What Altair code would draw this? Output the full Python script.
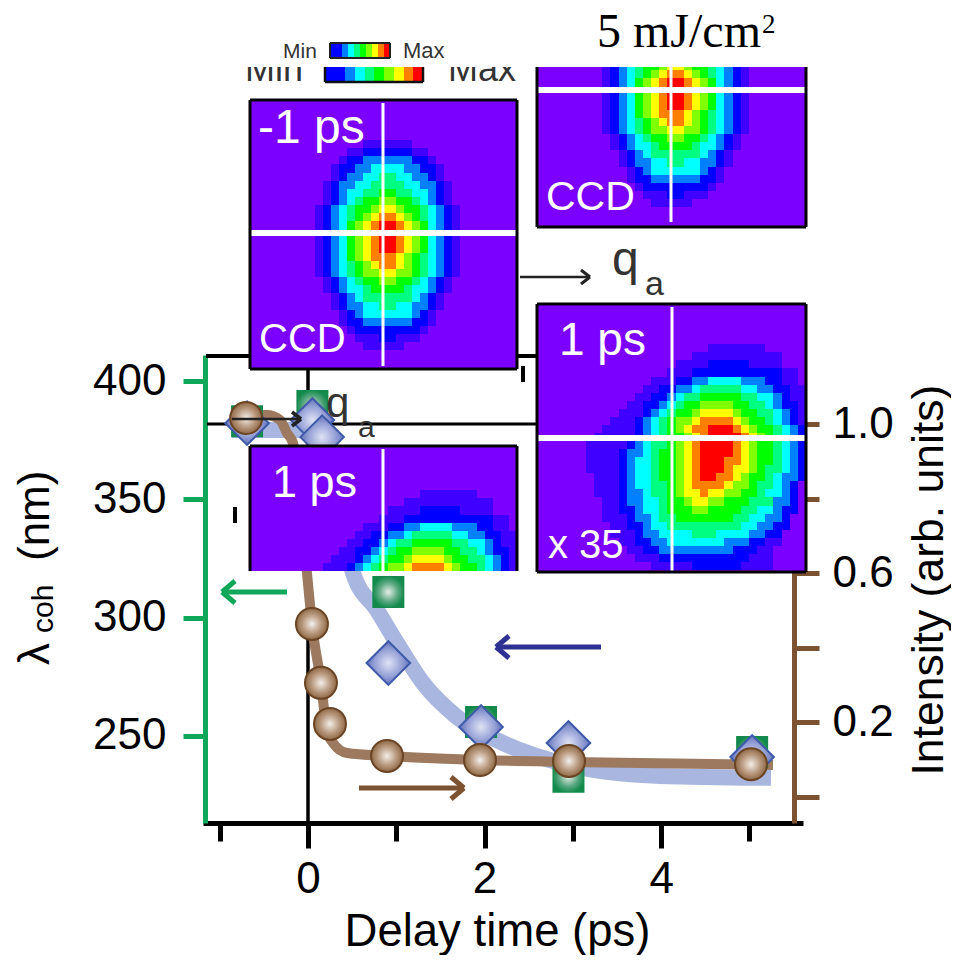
import altair as alt
import pandas as pd

# ---- series ----
SQUARE_PS = [-0.69, 0.05, 0.91, 1.96, 2.95, 5.03]
SQUARE_NM = [383.0, 389.4, 310.8, 255.9, 232.7, 243.2]
DIAMOND_PS = [-0.69, 0.05, 0.16, 0.91, 1.96, 2.95, 5.03]
DIAMOND_NM = [382.2, 383.5, 376.3, 280.8, 253.8, 247.0, 241.1]
CIRCLE_PS = [-0.70, 0.045, 0.147, 0.249, 0.895, 1.948, 2.956, 5.017]
CIRCLE_I = [1.016, 0.464, 0.306, 0.196, 0.110, 0.099, 0.0965, 0.088]
BLUE_FIT_PS = [-0.86, -0.09, 0.159, 0.362, 0.51, 0.781, 1.008, 1.302, 1.687, 2.208, 2.956, 3.986, 5.243]
BLUE_FIT_NM = [379.3, 379.3, 372.9, 341.3, 318.9, 303.2, 289.3, 272.4, 258.0, 247.0, 237.7, 233.1, 232.3]
BROWN_FIT_PS = [-0.86, -0.464, -0.317, -0.238, -0.17, -0.09, -0.011, 0.045, 0.147, 0.215, 0.283, 0.442, 0.895, 1.948, 2.956, 5.266]
BROWN_FIT_I = [1.021, 1.024, 1.011, 0.976, 0.949, 0.796, 0.6, 0.464, 0.306, 0.18, 0.145, 0.118, 0.11, 0.099, 0.094, 0.086]

# ---- CCD maps, one character per cell: level 0 (violet) .. a (red) ----
PALETTE = {"0": "#7c00ff", "1": "#4000ff", "2": "#0000ff", "3": "#0080ff", "4": "#00ffff", "5": "#00ff80",
           "6": "#00ff00", "7": "#80ff00", "8": "#ffff00", "9": "#ff8000", "a": "#ff0000"}
MAP_BEFORE = ["", "", "", "", "",
    "00000000000000111111",
    "0000000000001122222211",
    "00000000000122333333221",
    "000000000012233444433221",
    "000000000012334455443321",
    "0000000001233445555443321",
    "0000000001234455665544321",
    "0000000001234566776654321",
    "00000000123456678876654321",
    "00000000123456789987654321",
    "0000000012346789aa98764321",
    "0000000012346789aa98764321",
    "0000000012346789aa98764321",
    "0000000012346789aa98764321",
    "00000000123467899987654321",
    "00000000123456789987654321",
    "00000000123456778877654321",
    "0000000001234566776654321",
    "0000000001234456666544321",
    "000000000012345555554321",
    "000000000012334455443321",
    "00000000000123444444321",
    "00000000000122333333221",
    "0000000000001222222221",
    "000000000000011122111",
    "0000000000000011111",
    "", ""]
MAP_AFTER = ["", "", "", "", "",
    "0000000000000000000001111111",
    "000000000000000000011111111111",
    "000000000000000001111222221111",
    "00000000000000001112222222222211",
    "000000000000001112233444433322110",
    "000000000000011223345555544332211",
    "000000000000112234556666655443211",
    "000000000001122345667777665543221",
    "000000000011123456678888766554321",
    "000000000111234567789999876654321",
    "000000001111234567899aaa987665432",
    "000000011111234566789aaaa98765432",
    "00000011111234556789aaaa987665432",
    "00000011112334566789aaaa987665432",
    "00000011112344566789aaa9987665432",
    "00000011112344566789aaa9887655432",
    "00000001112344566789aa99876654332",
    "00000001112344556789999877655432",
    "00000001112334556788988776654432",
    "00000000112334456678877666555332",
    "00000000112234456667766665544322",
    "0000000011123345566666665544332",
    "0000000001122344555555555443322",
    "000000000111233444455544443322",
    "000000000011223344444443332211",
    "00000000000112233333333322211",
    "00000000000011122222222222111",
    "00000000000000111112222221111"]
COLORBAR_LEVELS = ["2", "2", "3", "4", "5", "6", "7", "8", "9", "a"]

# ---- tick values and labels ----
X_MAJOR = [0, 2, 4]
X_MINOR = [-1, 1, 3, 5]
NM_TICKS = [250, 300, 350, 400]
I_TICKS = [0, 0.2, 0.4, 0.6, 0.8, 1.0]

# ---- layout, in page pixels ----
W, H = 943, 947
px_x = alt.Scale(domain=[8, 8 + W], range=[0, W])
px_y = alt.Scale(domain=[8, 8 + H], range=[0, H])
ps_scale = alt.Scale(domain=[-1.189, 5.606], range=[195, 795], zero=False, nice=False)
nm_scale = alt.Scale(domain=[213.2, 411.0], range=[815, 347], zero=False, nice=False)
i_scale = alt.Scale(domain=[-0.0697, 1.185], range=[815, 347], zero=False, nice=False)

GREEN = "#0fa75a"
BROWN = "#7d5230"
NAVY = "#2e3192"
INK = "#333333"


def cells(rows, x0, x1, origin, n_first, top, bottom, n=33):
    step_x = (x1 - x0) / n
    out = []
    for r, row in enumerate(rows):
        y0 = max(origin + 8.06 * (r + n_first), top)
        y1 = min(origin + 8.06 * (r + n_first + 1), bottom)
        if y1 <= y0:
            continue
        for c, ch in enumerate(row.ljust(n, "0")[:n]):
            if ch != "0":
                out.append(dict(x=round(x0 + c * step_x), x2=round(x0 + (c + 1) * step_x),
                                y=round(y0), y2=round(y1), color=PALETTE[ch]))
    return out


def bar(x0, x1, y0, y1):
    step = (x1 - x0) / len(COLORBAR_LEVELS)
    return [dict(x=round(x0 + i * step), x2=round(x0 + (i + 1) * step), y=y0, y2=y1, color=PALETTE[k])
            for i, k in enumerate(COLORBAR_LEVELS)]


def boxes(rows):
    return (alt.Chart(pd.DataFrame(rows)).mark_rect().encode(
        x=alt.X("x:Q", scale=px_x, axis=None), x2="x2:Q",
        y=alt.Y("y:Q", scale=px_y, axis=None), y2="y2:Q",
        color=alt.Color("color:N", scale=None)))


def rules(rows):
    return (alt.Chart(pd.DataFrame(rows, columns=["x", "y", "x2", "y2", "color", "w"])).mark_rule().encode(
        x=alt.X("x:Q", scale=px_x, axis=None), x2="x2:Q",
        y=alt.Y("y:Q", scale=px_y, axis=None), y2="y2:Q",
        color=alt.Color("color:N", scale=None),
        strokeWidth=alt.StrokeWidth("w:Q", scale=None)))


def texts(rows, font="Liberation Sans", angle=0):
    return (alt.Chart(pd.DataFrame(rows, columns=["text", "x", "y", "size", "color"]))
            .mark_text(font=font, align="left", baseline="alphabetic", angle=angle).encode(
        x=alt.X("x:Q", scale=px_x, axis=None),
        y=alt.Y("y:Q", scale=px_y, axis=None),
        text="text:N",
        size=alt.Size("size:Q", scale=None),
        color=alt.Color("color:N", scale=None)))


def ball(c0, c1, c2=None):
    stops = [dict(offset=0, color=c0)]
    if c2:
        stops.append(dict(offset=0.6, color=c2))
    stops.append(dict(offset=1, color=c1))
    return dict(gradient="radial", stops=stops)


axis_common = dict(grid=False, labelFont="Liberation Sans", titleFont="Liberation Sans", labelColor="black",
                   titleColor="black", labelOverlap=False, titleFontWeight="normal")

x_major_axis = alt.Axis(values=X_MAJOR, orient="bottom", offset=-(H - 815), domainColor="black", domainWidth=5,
                        tickColor="black", tickWidth=5, tickSize=25, labelFontSize=44, labelPadding=9, format="d",
                        title="Delay time (ps)", titleFontSize=45.5, titleX=489, titleY=122, titleAlign="center",
                        titleBaseline="alphabetic", **axis_common)
x_minor_axis = alt.Axis(values=X_MINOR, orient="bottom", offset=-(H - 815), domain=False, labels=False,
                        tickColor="black", tickWidth=5, tickSize=18, title=None, grid=False)
nm_axis = alt.Axis(values=NM_TICKS, orient="left", offset=-197, domainColor=GREEN, domainWidth=5, tickColor=GREEN,
                   tickWidth=5, tickSize=22, labelFontSize=44, labelPadding=17, title=None, **axis_common)
i_axis = alt.Axis(values=I_TICKS, orient="right", offset=-(W - 786), domainColor=BROWN, domainWidth=5, tickColor=BROWN,
                  tickWidth=5, tickSize=25, labelFontSize=44, labelPadding=13,
                  labelExpr="indexof(['0.2','0.6','1.0'], format(datum.value,'.1f')) >= 0 ? format(datum.value,'.1f') : ''",
                  title="Intensity (arb. units)", titleFontSize=44.5, titleAngle=270, titleX=148, titleY=767,
                  titleAlign="left", titleBaseline="alphabetic", **axis_common)

blue_df = pd.DataFrame({"ps": BLUE_FIT_PS, "v": BLUE_FIT_NM})
brown_df = pd.DataFrame({"ps": BROWN_FIT_PS, "v": BROWN_FIT_I})

black_lines = rules([
    (206, 356, 540, 356, "#000000", 4),
    (207, 424, 540, 424, "#000000", 3),
    (308, 356, 308, 823, "#000000", 3.5),
    (523, 366, 523, 382, "#000000", 4),
    (235, 507, 235, 523, "#000000", 4),
])

blue_curve = alt.Chart(blue_df).mark_line(color="#a9b6df", strokeWidth=16, interpolate="monotone", strokeCap="butt").encode(
    x=alt.X("ps:Q", scale=ps_scale, axis=x_major_axis),
    y=alt.Y("v:Q", scale=nm_scale, axis=nm_axis))
brown_curve = alt.Chart(brown_df).mark_line(color="#9d7a5f", strokeWidth=10, interpolate="monotone", strokeCap="butt").encode(
    x=alt.X("ps:Q", scale=ps_scale, axis=x_minor_axis),
    y=alt.Y("v:Q", scale=i_scale, axis=i_axis))
squares = alt.Chart(pd.DataFrame({"ps": SQUARE_PS, "v": SQUARE_NM})).mark_point(
    shape="square", size=1024, filled=True, opacity=1, fill=ball("#e6efe8", "#138a4c", "#5aa880")).encode(
    x=alt.X("ps:Q", scale=ps_scale, axis=None), y=alt.Y("v:Q", scale=nm_scale, axis=None))
diamonds = alt.Chart(pd.DataFrame({"ps": DIAMOND_PS, "v": DIAMOND_NM})).mark_point(
    shape="diamond", size=1900, filled=True, opacity=1, fill=ball("#dfe3f5", "#6272bd", "#98a3d7"),
    stroke="#3f5aa8", strokeWidth=2).encode(
    x=alt.X("ps:Q", scale=ps_scale, axis=None), y=alt.Y("v:Q", scale=nm_scale, axis=None))
circles = alt.Chart(pd.DataFrame({"ps": CIRCLE_PS, "v": CIRCLE_I})).mark_point(
    shape="circle", size=1024, filled=True, opacity=1, fill=ball("#f3eee8", "#8e6846", "#b8987d"),
    stroke="#6b4423", strokeWidth=2).encode(
    x=alt.X("ps:Q", scale=ps_scale, axis=None), y=alt.Y("v:Q", scale=i_scale, axis=None))

# panels
panel_bg = boxes([
    dict(x=250, x2=517, y=100, y2=369, color=PALETTE["0"]),
    dict(x=537, x2=806, y=67, y2=227, color=PALETTE["0"]),
    dict(x=537, x2=806, y=304, y2=572, color=PALETTE["0"]),
    dict(x=250, x2=517, y=446, y2=571, color=PALETTE["0"]),
])
panel_cells = boxes(
    cells(MAP_BEFORE, 250, 517, 100, 0, 100, 369)
    + cells(MAP_BEFORE, 537, 806, -43, 0, 67, 227)
    + cells(MAP_AFTER, 537, 806, 304, 0, 304, 572)
    + cells(MAP_AFTER[:15], 250, 517, 446, 0.5, 446, 571)
)
panel_lines = rules([
    (250, 233, 516, 233, "#ffffff", 6), (383, 103, 383, 366, "#ffffff", 3),
    (538, 90, 805, 90, "#ffffff", 6), (671, 67, 671, 222, "#ffffff", 3),
    (538, 438, 805, 438, "#ffffff", 6), (672, 307, 672, 572, "#ffffff", 3),
    (383, 449, 383, 571, "#ffffff", 3),
    # frames
    (250, 100, 517, 100, "#000000", 3), (250, 369, 517, 369, "#000000", 3),
    (250, 100, 250, 369, "#000000", 3), (517, 100, 517, 369, "#000000", 3),
    (537, 67, 537, 227, "#000000", 3), (806, 67, 806, 227, "#000000", 3), (537, 227, 806, 227, "#000000", 3),
    (537, 304, 806, 304, "#000000", 3), (537, 572, 806, 572, "#000000", 3),
    (537, 304, 537, 572, "#000000", 3), (806, 304, 806, 572, "#000000", 3),
    (250, 446, 517, 446, "#000000", 3), (250, 446, 250, 571, "#000000", 3), (517, 446, 517, 571, "#000000", 3),
])
panel_text = texts([
    ("-1 ps", 258, 143, 48, "#ffffff"), ("CCD", 259, 352, 40, "#ffffff"),
    ("CCD", 546, 210, 41, "#ffffff"),
    ("1 ps", 559, 355, 46, "#ffffff"), ("x 35", 548, 558, 40, "#ffffff"),
    ("1 ps", 272, 497, 45, "#ffffff"),
])

# colour keys
big_key_text = texts([("Min", 245, 81, 36, INK), ("Max", 448, 81, 36, INK)])
key_mask = boxes([dict(x=240, x2=536, y=30, y2=67, color="#ffffff")])
big_key = boxes(bar(326, 423, 67, 81))
big_key_frame = rules([
    (325, 67, 325, 82, "#111111", 2.5), (423, 67, 423, 82, "#111111", 2.5), (325, 82, 423, 82, "#111111", 2.5)])
small_key = boxes(bar(330, 390, 44, 57))
small_key_frame = rules([
    (330, 43, 390, 43, "#222222", 2), (330, 58, 390, 58, "#222222", 2),
    (330, 43, 330, 58, "#222222", 2), (390, 43, 390, 58, "#222222", 2)])
small_key_text = texts([("Min", 283, 58, 21, INK), ("Max", 403, 58, 22, INK)])

# arrows and notes
arrows = rules([
    (287, 592, 222, 592, GREEN, 5), (222, 592, 235, 581, GREEN, 5), (222, 592, 235, 603, GREEN, 5),
    (359, 788, 464, 788, BROWN, 5), (464, 788, 451, 777, BROWN, 5), (464, 788, 451, 799, BROWN, 5),
    (601, 647, 496, 647, NAVY, 5), (496, 647, 509, 636, NAVY, 5), (496, 647, 509, 658, NAVY, 5),
    (520, 277, 590, 277, "#222222", 2.5), (590, 277, 581, 270, "#222222", 3), (590, 277, 581, 284, "#222222", 3),
    (232, 419, 300, 419, "#222222", 2.5), (301, 419, 292, 412, "#222222", 3.5), (301, 419, 292, 426, "#222222", 3.5),
])
notes = texts([
    ("q", 612, 275, 48, INK), ("a", 645, 295, 34, INK),
    ("q", 326, 417, 42, INK), ("a", 358, 437, 30, INK),
])
title_serif = texts([("5 mJ/cm", 597, 47, 48, "#000000"), ("2", 762, 33, 27, "#000000")], font="Liberation Serif")
y_title = texts([("λ", 49, 665, 44, "#000000"), ("coh", 53, 633, 30, "#000000"), ("(nm)", 49, 561, 44, "#000000")], angle=270)

chart = (alt.layer(
    black_lines, blue_curve, brown_curve, squares, diamonds, circles,
    panel_bg, panel_cells, panel_lines, panel_text,
    big_key_text, key_mask, big_key, big_key_frame, small_key, small_key_frame, small_key_text,
    arrows, notes, title_serif, y_title)
    .resolve_scale(x="independent", y="independent", color="independent", size="independent", strokeWidth="independent")
    .resolve_axis(x="independent", y="independent")
    .properties(width=W, height=H, padding=0, autosize="none", background="white")
    .configure_view(stroke=None))

chart.save("out.html", embed_options={"renderer": "svg", "actions": False})
